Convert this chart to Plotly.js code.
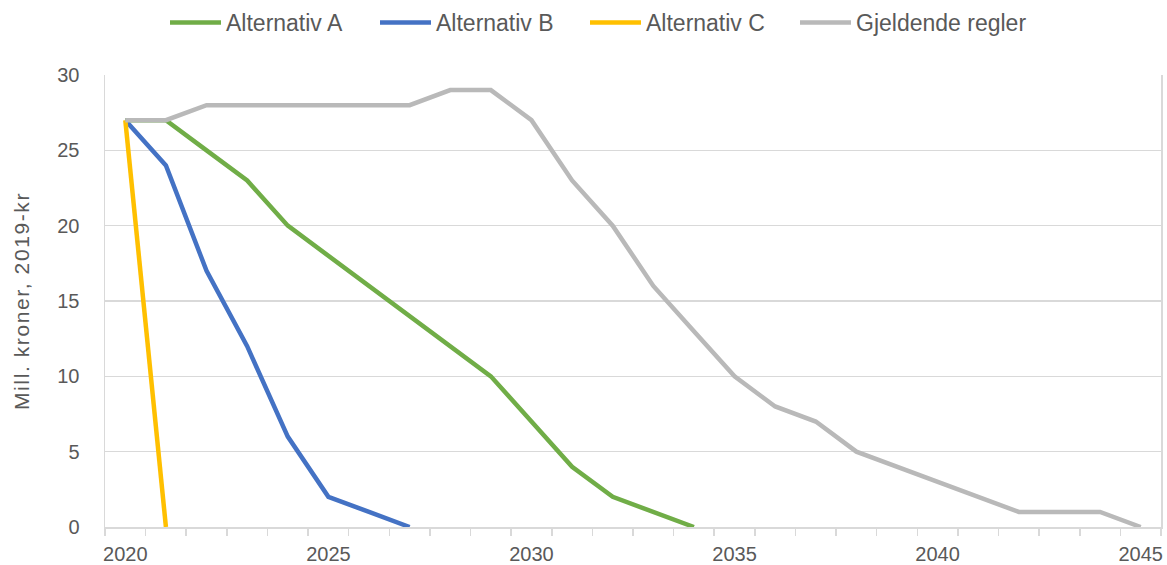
<!DOCTYPE html>
<html>
<head>
<meta charset="utf-8">
<script src="https://cdn.plot.ly/plotly-3.0.1.min.js"></script>
<style>
html,body{margin:0;padding:0;background:#fff;}
#chart{width:1167px;height:565px;}
.ytitle{letter-spacing:1.6px;}
</style>
</head>
<body>
<div id="chart"></div>
<script>
const years = [2020,2021,2022,2023,2024,2025,2026,2027,2028,2029,2030,2031,2032,2033,2034,2035,2036,2037,2038,2039,2040,2041,2042,2043,2044,2045];
const altA = [27,27,25,23,20,18,16,14,12,10,7,4,2,1,0];
const altB = [27,24,17,12,6,2,1,0];
const altC = [27,0];
const gjeldende = [27,27,28,28,28,28,28,28,29,29,27,23,20,16,13,10,8,7,5,4,3,2,1,1,1,0];
const seriesNames = ['Alternativ A','Alternativ B','Alternativ C','Gjeldende regler'];
const seriesColors = ['#70AD47','#4472C4','#FFC000','#B9B9B9'];
const xTickVals = [2020,2025,2030,2035,2040,2045];
const xTickText = ['2020','2025','2030','2035','2040','2045'];
const yTitle = 'Mill. kroner, 2019-kr';

const font = {family: 'Liberation Sans, Arial, sans-serif', color: '#595959'};
const legendIds = ['legend','legend2','legend3','legend4'];
const legendLeft = [165, 375, 585, 795];

const allSeries = [altA, altB, altC, gjeldende];
const traces = allSeries.map((vals, i) => ({
  type: 'scatter',
  mode: 'lines',
  name: seriesNames[i],
  legend: legendIds[i],
  x: years.slice(0, vals.length),
  y: vals,
  line: {color: seriesColors[i], width: 4.5},
  hoverinfo: 'x+y+name'
}));

const layout = {
  width: 1167, height: 565,
  margin: {l: 105, r: 6, t: 75, b: 38},
  paper_bgcolor: '#fff', plot_bgcolor: '#fff',
  font: Object.assign({}, font, {size: 20}),
  showlegend: true,
  xaxis: {
    range: [2019.5, 2045.5],
    tickmode: 'array', tickvals: xTickVals, ticktext: xTickText,
    ticks: '', showgrid: false, zeroline: false,
    showline: true, linecolor: '#D9D9D9', linewidth: 1.5,
    tickfont: Object.assign({}, font, {size: 20}),
    ticklabelstandoff: 8,
    minor: {tickmode: 'linear', tick0: 2019.5, dtick: 1, ticks: 'outside', ticklen: 7, tickwidth: 1.5, tickcolor: '#D9D9D9', showgrid: false}
  },
  yaxis: {
    range: [0, 30], dtick: 5, tick0: 0,
    ticks: '', showgrid: true, gridcolor: '#D9D9D9', gridwidth: 1.5,
    zeroline: false, showline: true, mirror: true, linecolor: '#D9D9D9', linewidth: 1.5,
    tickfont: Object.assign({}, font, {size: 20}),
    ticklabelstandoff: 20,
    title: {text: yTitle, font: Object.assign({}, font, {size: 21}), standoff: 22}
  }
};
legendIds.forEach((id, i) => {
  layout[id] = {
    orientation: 'h',
    xref: 'container', yref: 'container',
    x: legendLeft[i]/1167, xanchor: 'left',
    y: 1 - 1/565, yanchor: 'top',
    itemwidth: 51,
    font: Object.assign({}, font, {size: 23}),
    bgcolor: 'rgba(0,0,0,0)'
  };
});

Plotly.newPlot('chart', traces, layout, {displayModeBar: false, staticPlot: true});
</script>
</body>
</html>
